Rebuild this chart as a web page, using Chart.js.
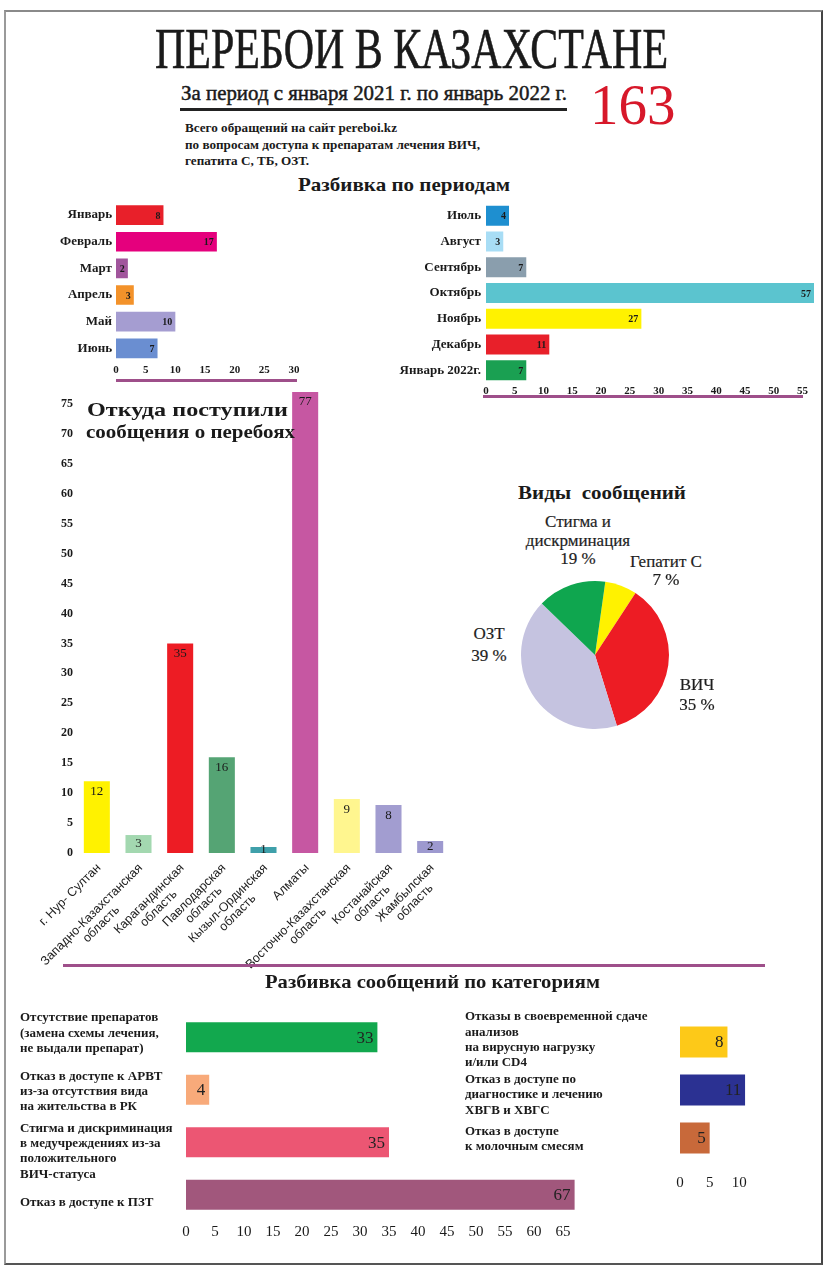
<!DOCTYPE html>
<html lang="ru">
<head>
<meta charset="utf-8">
<title>Перебои в Казахстане</title>
<script src="https://cdn.jsdelivr.net/npm/chart.js@4.4.1/dist/chart.umd.min.js"></script>
<style>
  html, body { margin: 0; padding: 0; background: #fff; }
  #page { position: relative; width: 833px; height: 1270px; overflow: hidden; font-family: "Liberation Serif", "DejaVu Serif", serif; color: #1a1a1a; }
  .frame { position: absolute; left: 4px; top: 10px; width: 815px; height: 1251px; border-top: 2px solid #8a8a8a; border-left: 2px solid #9a9a9a; border-right: 2px solid #444; border-bottom: 2px solid #555; }
  .txt { position: absolute; white-space: nowrap; transform-origin: 0 0; }
  .bold { font-weight: bold; }
  .rule { position: absolute; height: 3px; background: #9e4f8a; }
  canvas { position: absolute; }
  .pl { position: absolute; white-space: nowrap; font-size: 17px; line-height: 18px; transform: translateX(-50%); color: #1e1e1e; -webkit-text-stroke: 0.2px #1e1e1e; }
</style>
</head>
<body>
<div id="page">
  <div class="frame"></div>

  <div class="txt fit" data-w="513" style="left:155px; top:21px; font-size:56px; line-height:56px; -webkit-text-stroke:0.6px #1a1a1a;">ПЕРЕБОИ В КАЗАХСТАНЕ</div>
  <div class="txt fit" data-w="386" style="left:181px; top:82px; font-size:22px; line-height:22px; -webkit-text-stroke:0.5px #1a1a1a;">За период с января 2021 г. по январь 2022 г.</div>
  <div style="position:absolute; left:180px; top:108px; width:387px; height:3px; background:#222;"></div>
  <div class="txt" style="left:590px; top:76px; font-size:57px; line-height:57px; color:#d7182a;">163</div>

  <div class="txt bold fit" data-w="295" style="left:185px; top:120px; font-size:12.5px; line-height:16.5px;">Всего обращений на сайт pereboi.kz<br>по вопросам доступа к препаратам лечения ВИЧ,<br>гепатита С, ТБ, ОЗТ.</div>

  <div class="txt bold fit" data-w="212" style="left:298px; top:175px; font-size:19px; line-height:19px;">Разбивка по периодам</div>

  <canvas id="monthsA" width="300" height="200" style="left:10px; top:190px;"></canvas>
  <canvas id="monthsB" width="445" height="215" style="left:380px; top:190px;"></canvas>
  <div class="rule" style="left:116px; top:379px; width:181px;"></div>
  <div class="rule" style="left:483px; top:395px; width:320px;"></div>

  <canvas id="regions" width="470" height="595" style="left:0px; top:380px;"></canvas>
  <div class="txt bold fit" data-w="201" style="left:87px; top:400px; font-size:19px; line-height:19px;">Откуда поступили</div>
  <div class="txt bold fit" data-w="209" style="left:86px; top:422px; font-size:19px; line-height:19px;">сообщения о перебоях</div>

  <div class="txt bold fit" data-w="168" style="left:518px; top:483px; font-size:19px; line-height:19px;">Виды&nbsp; сообщений</div>
  <canvas id="kinds" width="160" height="160" style="left:515px; top:575px;"></canvas>
  <div id="pieText"></div>

  <div class="rule" style="left:63px; top:964px; width:702px;"></div>
  <div class="txt bold fit" data-w="335" style="left:265px; top:972px; font-size:19px; line-height:19px;">Разбивка сообщений по категориям</div>

  <canvas id="catsA" width="580" height="243" style="left:15px; top:1000px;"></canvas>
  <canvas id="catsB" width="300" height="187" style="left:460px; top:1005px;"></canvas>
</div>

<script>
// ---- data ----
const monthsA = ['Январь', 'Февраль', 'Март', 'Апрель', 'Май', 'Июнь'];
const monthsAValues = [8, 17, 2, 3, 10, 7];
const monthsAColors = ['#e8202a', '#e5007d', '#a1559c', '#f3922a', '#a59dd1', '#6a8ed1'];

const monthsB = ['Июль', 'Август', 'Сентябрь', 'Октябрь', 'Ноябрь', 'Декабрь', 'Январь 2022г.'];
const monthsBValues = [4, 3, 7, 57, 27, 11, 7];
const monthsBColors = ['#1e8fd0', '#a8ddf5', '#8a9ead', '#5bc4cf', '#fff200', '#e8202a', '#1aa052'];

const regions = [
  ['г. Нур- Султан'],
  ['Западно-Казахстанская', 'область'],
  ['Карагандинская', 'область'],
  ['Павлодарская', 'область'],
  ['Кызыл-Ординская', 'область'],
  ['Алматы'],
  ['Восточно-Казахстанская', 'область'],
  ['Костанайская', 'область'],
  ['Жамбылская', 'область']
];
const regionValues = [12, 3, 35, 16, 1, 77, 9, 8, 2];
const regionColors = ['#fff200', '#a3d8b0', '#ed1c24', '#55a474', '#3fa0aa', '#c657a2', '#fff68f', '#a29dd0', '#9d99cf'];

const kinds = ['Гепатит С', 'ВИЧ', 'ОЗТ', 'Стигма и дискрминация'];
const kindShares = [7, 36, 42, 15];
const kindPercents = ['7 %', '35 %', '39 %', '19 %'];
const kindColors = ['#fff200', '#ed1c24', '#c5c3e0', '#0fa64f'];

const catsA = [
  ['Отсутствие препаратов', '(замена схемы лечения,', 'не выдали препарат)'],
  ['Отказ в доступе к АРВТ', 'из-за отсутствия вида', 'на жительства в РК'],
  ['Стигма и дискриминация', 'в медучреждениях из-за', 'положительного', 'ВИЧ-статуса'],
  ['Отказ в доступе к ПЗТ']
];
const catsAValues = [33, 4, 35, 67];
const catsAColors = ['#12a84e', '#f8aa7a', '#ec5673', '#a1577c'];

const catsB = [
  ['Отказы в своевременной сдаче', 'анализов', 'на вирусную нагрузку', 'и/или CD4'],
  ['Отказ в доступе по', 'диагностике и лечению', 'ХВГВ и ХВГС'],
  ['Отказ в доступе', 'к молочным смесям']
];
const catsBValues = [8, 11, 5];
const catsBColors = ['#fdc918', '#2b3192', '#c8693a'];

// ---- squeeze the headings to the width they have in the print ----
document.querySelectorAll('.fit').forEach(el => {
  el.style.display = 'inline-block';
  const w = el.getBoundingClientRect().width;
  el.style.transform = 'scaleX(' + (Number(el.dataset.w) / w) + ')';
});

// pie captions
const pieSpots = [
  { x: 666, y: [562, 580], names: ['Гепатит С'] },
  { x: 697, y: [685, 705], names: ['ВИЧ'] },
  { x: 489, y: [634, 656], names: ['ОЗТ'] },
  { x: 578, y: [522, 541, 559], names: ['Стигма и', 'дискрминация'] }
];
let pieHtml = '';
pieSpots.forEach((s, i) => {
  const lines = s.names.concat([kindPercents[i]]);
  lines.forEach((t, k) => {
    pieHtml += '<div class="pl" style="left:' + s.x + 'px; top:' + (s.y[k] - 9) + 'px;">' + t + '</div>';
  });
});
document.getElementById('pieText').innerHTML = pieHtml;

// ---- plugins ----
const SERIF = '"Liberation Serif", serif';

const barValues = {
  id: 'barValues',
  afterDatasetsDraw(chart, args, opts) {
    const ctx = chart.ctx;
    const meta = chart.getDatasetMeta(0);
    const values = chart.data.datasets[0].data;
    const horizontal = chart.options.indexAxis === 'y';
    ctx.save();
    ctx.font = opts.font;
    ctx.fillStyle = opts.color;
    ctx.textBaseline = 'middle';
    meta.data.forEach((bar, i) => {
      if (horizontal) {
        ctx.textAlign = 'right';
        ctx.fillText(values[i], bar.x - opts.inset, bar.y + 1);
      } else {
        ctx.textAlign = 'center';
        const y = Math.min(bar.y + opts.inset, (bar.y + bar.base) / 2);
        ctx.fillText(values[i], bar.x, y);
      }
    });
    ctx.restore();
  }
};

// left-aligned multi-line category names, nudged per row like the print
const sideLabels = {
  id: 'sideLabels',
  afterDraw(chart, args, opts) {
    if (!opts.font) return;
    const ctx = chart.ctx;
    const meta = chart.getDatasetMeta(0);
    const x = chart.scales.y.left;
    ctx.save();
    ctx.font = opts.font;
    ctx.fillStyle = opts.color;
    ctx.textAlign = 'left';
    ctx.textBaseline = 'middle';
    chart.data.labels.forEach((lines, i) => {
      const top = meta.data[i].y + opts.shift[i] - (lines.length - 1) * opts.lineHeight / 2;
      lines.forEach((line, k) => ctx.fillText(line, x, top + k * opts.lineHeight));
    });
    ctx.restore();
  }
};

// slanted, centred multi-line category names under the region bars
const slantLabels = {
  id: 'slantLabels',
  afterDraw(chart, args, opts) {
    const ctx = chart.ctx;
    const xs = chart.scales.x;
    ctx.save();
    ctx.font = opts.font;
    ctx.fillStyle = opts.color;
    ctx.textBaseline = 'middle';
    ctx.textAlign = 'center';
    chart.data.labels.forEach((lines, i) => {
      ctx.save();
      ctx.translate(xs.getPixelForTick(i) + opts.dx, chart.chartArea.bottom + opts.dy);
      ctx.rotate(-Math.PI / 4);
      const w = ctx.measureText(lines[0]).width;
      lines.forEach((line, k) => ctx.fillText(line, -w / 2, k * opts.lineHeight));
      ctx.restore();
    });
    ctx.restore();
  }
};

const noGrid = { display: false, drawTicks: false };
const noBorder = { display: false };
// ticks every 5 up to the axis end, whatever the end value is
const steps5 = s => {
  const t = [];
  for (let v = 0; v <= s.max + 0.001; v += 5) t.push({ value: v });
  s.ticks = t;
};

function hbar(id, labels, values, colors, cfg) {
  const custom = !!cfg.side;
  return new Chart(document.getElementById(id), {
    type: 'bar',
    data: {
      labels: labels,
      datasets: [{ data: values, backgroundColor: colors, barPercentage: cfg.bar, categoryPercentage: 1 }]
    },
    options: {
      indexAxis: 'y',
      responsive: false,
      animation: false,
      layout: { padding: cfg.padding },
      plugins: { legend: { display: false }, tooltip: { enabled: false }, barValues: cfg.values, sideLabels: cfg.side || {} },
      scales: {
        x: {
          min: 0, max: cfg.max,
          ticks: { font: cfg.xFont, color: '#1a1a1a', padding: cfg.xPad },
          afterBuildTicks: steps5,
          grid: noGrid, border: noBorder,
          afterFit: s => { s.height = cfg.xHeight; }
        },
        y: {
          ticks: { display: !custom, font: cfg.yFont, color: '#1a1a1a', padding: cfg.yPad, autoSkip: false },
          grid: noGrid, border: noBorder,
          afterFit: s => { s.width = cfg.yWidth; }
        }
      }
    },
    plugins: [barValues, sideLabels]
  });
}

// ---- periods ----
const monthTick = { family: SERIF, size: 11, weight: 'bold' };
const monthName = { family: SERIF, size: 13, weight: 'bold' };
const monthValue = { font: 'bold 10px ' + SERIF, color: '#1a1a1a', inset: 3 };

hbar('monthsA', monthsA, monthsAValues, monthsAColors, {
  bar: 0.74, max: 30, padding: { left: 0, right: 16, top: 8.4, bottom: 8.4 },
  xFont: monthTick, xPad: 2, xHeight: 20, yFont: monthName, yPad: 4, yWidth: 106,
  values: monthValue
});

hbar('monthsB', monthsB, monthsBValues, monthsBColors, {
  bar: 0.78, max: 57, padding: { left: 0, right: 11, top: 8.8, bottom: 3.8 },
  xFont: monthTick, xPad: 1, xHeight: 18, yFont: monthName, yPad: 5, yWidth: 106,
  values: monthValue
});

// ---- regions ----
new Chart(document.getElementById('regions'), {
  type: 'bar',
  data: {
    labels: regions,
    datasets: [{ data: regionValues, backgroundColor: regionColors, barPercentage: 0.625, categoryPercentage: 1 }]
  },
  options: {
    responsive: false,
    animation: false,
    layout: { padding: { left: 0, right: 19, top: 12, bottom: 122 } },
    plugins: {
      legend: { display: false }, tooltip: { enabled: false },
      barValues: { font: '13px ' + SERIF, color: '#1a1a1a', inset: 10 },
      slantLabels: { font: '12.5px "Liberation Sans", Arial, sans-serif', color: '#222', dx: 2, dy: 13, lineHeight: 13.5 }
    },
    scales: {
      x: { ticks: { display: false }, grid: noGrid, border: noBorder, afterFit: s => { s.height = 0; } },
      y: {
        min: 0, max: 77,
        ticks: { font: { family: SERIF, size: 12, weight: 'bold' }, color: '#1a1a1a', padding: 3 },
        afterBuildTicks: s => { steps5(s); s.ticks = s.ticks.filter(t => t.value <= 75); },
        grid: noGrid, border: noBorder,
        afterFit: s => { s.width = 76; }
      }
    }
  },
  plugins: [barValues, slantLabels]
});

// ---- kinds of reports ----
new Chart(document.getElementById('kinds'), {
  type: 'pie',
  data: { labels: kinds, datasets: [{ data: kindShares, backgroundColor: kindColors, borderWidth: 0 }] },
  options: {
    responsive: false,
    animation: false,
    rotation: 8,
    layout: { padding: 6 },
    plugins: { legend: { display: false }, tooltip: { enabled: false } }
  }
});

// ---- categories ----
const catTick = { family: SERIF, size: 15 };
const catValue = { font: '17px ' + SERIF, color: '#222', inset: 4 };
const catNameFont = 'bold 13px ' + SERIF;

hbar('catsA', catsA, catsAValues, catsAColors, {
  bar: 0.57, max: 67.5, padding: { left: 5, right: 17.5, top: 11, bottom: 0 },
  xFont: catTick, xPad: 2, xHeight: 22, yWidth: 166,
  values: catValue,
  side: { font: catNameFont, color: '#1a1a1a', lineHeight: 15.3, shift: [-4, 2, 9, 8] }
});

hbar('catsB', catsB, catsBValues, catsBColors, {
  bar: 0.645, max: 11, padding: { left: 5, right: 13, top: 13, bottom: 0 },
  xFont: catTick, xPad: 12, xHeight: 30, yWidth: 215,
  values: catValue,
  side: { font: catNameFont, color: '#1a1a1a', lineHeight: 15.3, shift: [-2, 5, 1] }
});
</script>
</body>
</html>
